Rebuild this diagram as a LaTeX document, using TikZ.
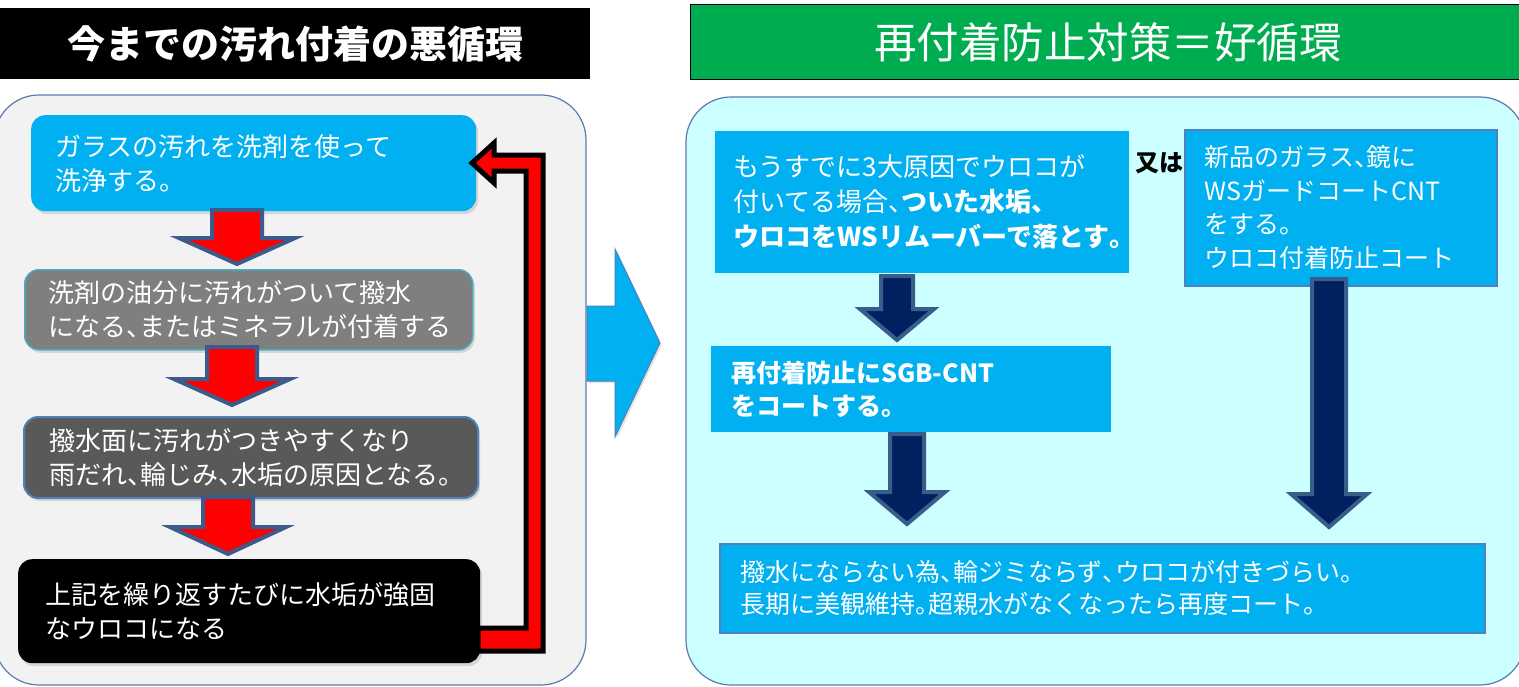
\documentclass[tikz,border=0pt]{standalone}
\usepackage{fontspec}
\setmainfont{Noto Sans CJK JP}
\usetikzlibrary{shadows}
\definecolor{cblue}{HTML}{00B0F0}
\definecolor{cgreen}{HTML}{00AC50}
\definecolor{panelgray}{HTML}{F2F2F2}
\definecolor{panelcyan}{HTML}{CCFFFF}
\definecolor{paneledge}{HTML}{5A7BB0}
\definecolor{arrowedge}{HTML}{3C5A8C}
\definecolor{navy}{HTML}{002060}
\definecolor{navyedge}{HTML}{385D8A}
\definecolor{bordblue}{HTML}{4F81BD}
\definecolor{bordteal}{HTML}{4BACC6}
\definecolor{gray2}{HTML}{7F7F7F}
\definecolor{gray3}{HTML}{595959}
\newcommand{\jpc}{\makebox[0.5em][l]{、}}
\newcommand{\jpk}{\makebox[0.5em][l]{。}}
\newcommand{\blockdown}[7]{%
  \draw[#1] (#2-#6,#3) -- (#2+#6,#3) -- (#2+#6,#4) -- (#2+#7,#4) -- (#2,#5) -- (#2-#7,#4) -- (#2-#6,#4) -- cycle;}
\begin{document}
\begin{tikzpicture}[x=1pt,y=-1pt,
  panel/.style={rounded corners=45pt, line width=1.2pt},
  lbox/.style={rounded corners=14pt, anchor=north west, inner ysep=0pt, align=left, text=white,
    font=\fontsize{26}{34}\selectfont,
    drop shadow={opacity=0.25,shadow xshift=2pt,shadow yshift=-3pt}},
  rbox/.style={anchor=north west, inner ysep=0pt, align=left, text=white, fill=cblue},
  redarrow/.style={fill=red, draw=arrowedge, line width=4pt, line join=miter},
  navyarrow/.style={fill=navy, draw=navyedge, line width=4pt, line join=miter},
  header/.style={anchor=north west, inner sep=0pt, text=white}
]
\useasboundingbox (0,0) rectangle (1519,686);
\fill[white] (0,0) rectangle (1519,686);
% panels
\draw[panel, fill=panelgray, draw=paneledge] (-6,95) rectangle (586,685);
\draw[panel, fill=panelcyan, draw=paneledge] (686,97) rectangle (1525,685);
% headers
\node[header, fill=black, minimum width=590pt, minimum height=71pt,
  font=\fontsize{38}{40}\selectfont\bfseries] (h1) at (0,8) {今までの汚れ付着の悪循環};
\node[header, fill=cgreen, draw=black, line width=1.2pt, minimum width=835pt, minimum height=75pt,
  font=\fontsize{42.5}{44}\selectfont] (h2) at (690,4) {再付着防止対策＝好循環};
% left boxes
\node[lbox, fill=cblue, minimum width=445pt, minimum height=96pt, inner xsep=24pt, text width=397pt]
  (b1) at (31,115) {ガラスの汚れを洗剤を使って\\洗浄する\jpk};
\node[lbox, fill=gray2, draw=bordteal, line width=1.5pt, minimum width=448pt, minimum height=80pt, inner xsep=24pt, text width=400pt]
  (b2) at (24,269) {洗剤の油分に汚れがついて撥水\\になる\jpc またはミネラルが付着する};
\node[lbox, fill=gray3, draw=bordblue, line width=2pt, minimum width=454pt, minimum height=81pt, inner xsep=25pt, text width=404pt]
  (b3) at (23,416) {撥水面に汚れがつきやすくなり\\雨だれ\jpc 輪じみ\jpc 水垢の原因となる\jpk};
\node[lbox, fill=black, minimum width=462pt, minimum height=104pt, inner xsep=27pt, text width=408pt]
  (b4) at (18,559) {上記を繰り返すたびに水垢が強固\\なウロコになる};
% left down arrows
\blockdown{redarrow}{237}{210}{238}{264}{25}{58}
\blockdown{redarrow}{232}{347}{379}{405}{25}{58}
\blockdown{redarrow}{228}{497}{527}{554}{25}{58}
% feedback arrow
\draw[fill=red, draw=black, line width=5pt, line join=miter]
  (478,628) -- (526,628) -- (526,171) -- (494,171) -- (494,183) -- (472,163) -- (494,143) -- (494,155)
  -- (543,155) -- (543,651) -- (478,651) -- cycle;
% big arrow
\draw[fill=cblue, draw=bordblue, line width=1pt, drop shadow={opacity=0.2,shadow xshift=2pt,shadow yshift=-2pt}]
  (587,306) -- (615,306) -- (615,249) -- (660,343) -- (615,437) -- (615,381) -- (587,381) -- cycle;
% right boxes
\node[rbox, minimum width=414pt, minimum height=142pt, inner xsep=18pt, text width=378pt,
  font=\fontsize{26}{35}\selectfont] (r1) at (715,131)
  {もうすでに3大原因でウロコが\\付いてる場合\jpc\textbf{ついた水垢\jpc}\\\textbf{ウロコをWSリムーバーで落とす\jpk}};
\node[font=\fontsize{24}{26}\selectfont\bfseries, text=black, inner sep=0pt] (or) at (1159,163) {又は};
\node[rbox, draw=bordblue, line width=1.5pt, minimum width=312pt, minimum height=156pt, inner xsep=20pt, text width=272pt,
  font=\fontsize{25}{33.5}\selectfont] (r2) at (1184,129)
  {新品のガラス\jpc 鏡に\\WSガードコートCNT\\をする\jpk\\ウロコ付着防止コート};
\node[rbox, minimum width=400pt, minimum height=86pt, inner xsep=20pt, text width=360pt,
  font=\fontsize{25}{33}\selectfont\bfseries] (r3) at (711,346)
  {再付着防止にSGB-CNT\\をコートする\jpk};
\node[rbox, draw=bordblue, line width=1.5pt, minimum width=765pt, minimum height=89pt, inner xsep=21pt, text width=723pt,
  font=\fontsize{25}{32}\selectfont] (r4) at (719,543)
  {撥水にならない為\jpc 輪ジミならず\jpc ウロコが付きづらい\jpk\\長期に美観維持\jpk 超親水がなくなったら再度コート\jpk};
% navy arrows
\blockdown{navyarrow}{897}{276}{309}{340}{16}{37}
\blockdown{navyarrow}{907}{434}{492}{524}{17}{38}
\blockdown{navyarrow}{1329}{279}{494}{527}{17}{38}
\end{tikzpicture}
\end{document}
